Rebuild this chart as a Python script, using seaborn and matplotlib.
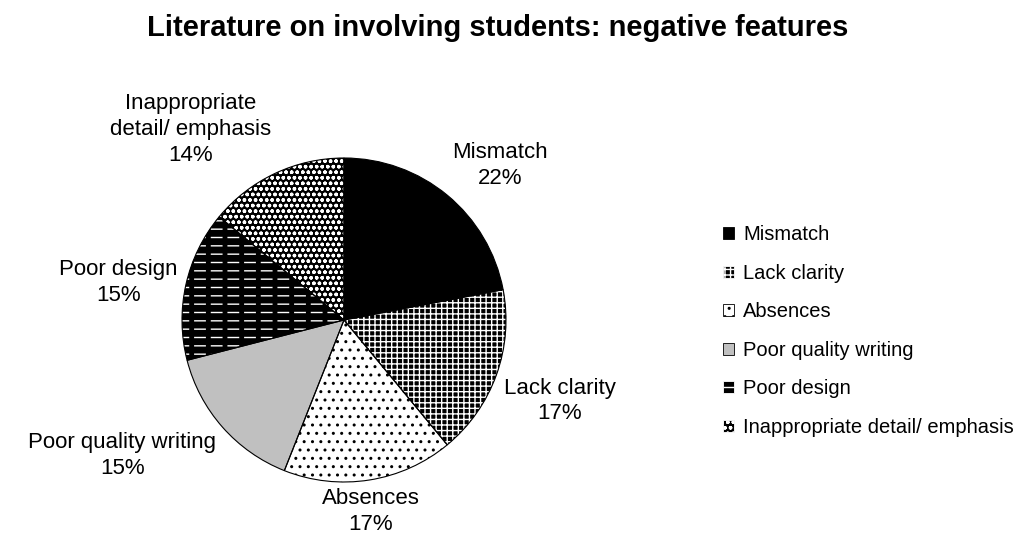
import numpy as np
import matplotlib
matplotlib.use('Agg')
import matplotlib.pyplot as plt
from matplotlib.patches import Patch, Wedge
import seaborn as sns

# data
categories = ['Mismatch', 'Lack clarity', 'Absences', 'Poor quality writing',
              'Poor design', 'Inappropriate detail/ emphasis']
pie_labels = ['Mismatch', 'Lack clarity', 'Absences', 'Poor quality writing',
              'Poor design', 'Inappropriate\ndetail/ emphasis']
shares = [22, 17, 17, 15, 15, 14]

# fill styles (face colour, hatch, hatch colour)
face_colors = ['black', 'black', 'white', '#c0c0c0', 'black', 'black']
hatches = ['', '+++', '..', '', '--', 'ooo']
hatch_colors = ['black', 'white', 'black', '#c0c0c0', 'white', 'white']

sns.set_theme(style='white')
plt.rcParams['font.family'] = ['Liberation Sans', 'DejaVu Sans']
plt.rcParams['text.color'] = 'black'
plt.rcParams['hatch.linewidth'] = 1.0

fig = plt.figure(figsize=(10.29, 5.41), dpi=100)
fig.patch.set_facecolor('white')

# pie centre ~ (344, 320) px, radius ~162 px
cx, cy, r = 344, 320, 162
W, H = 1029, 541
ax = fig.add_axes([(cx - r) / W, (H - cy - r) / H, 2 * r / W, 2 * r / H])

texts_in = [f'{l}\n{v}%' for l, v in zip(pie_labels, shares)]
wedges, texts = ax.pie(shares, labels=texts_in, startangle=90, counterclock=False,
                       colors=face_colors, labeldistance=1.05,
                       wedgeprops=dict(linewidth=0),
                       textprops=dict(fontsize=16, linespacing=1.3))
for w, h, hc in zip(wedges, hatches, hatch_colors):
    w.set_hatch(h)
    w.set_edgecolor(hc)

# break the white lines of "Poor design" into dashes with thick black bars
pd_w = wedges[4]
with plt.rc_context({'hatch.linewidth': 3.5}):
    bars = Wedge(pd_w.center, pd_w.r, pd_w.theta1, pd_w.theta2, fill=False,
                 hatch='|', edgecolor='black', linewidth=0)
if hasattr(bars, 'set_hatch_linewidth'):
    bars.set_hatch_linewidth(3.5)
ax.add_patch(bars)

# black outlines on top
ax.pie(shares, startangle=90, counterclock=False,
       wedgeprops=dict(fill=False, edgecolor='black', linewidth=0.8))

# place the outside labels like excel does: hug the edge of the pie
for w, t in zip(wedges, texts):
    ang = np.deg2rad((w.theta1 + w.theta2) / 2)
    c, s = np.cos(ang), np.sin(ang)
    t.set_ha('left' if c > 0.3 else ('right' if c < -0.3 else 'center'))
    t.set_va('bottom' if s > 0.3 else ('top' if s < -0.3 else 'center'))
    t.set_multialignment('center')

ax.set_xlim(-1, 1)
ax.set_ylim(-1, 1)
ax.set_aspect('equal')
ax.axis('off')

fig.suptitle('Literature on involving students: negative features',
             fontsize=21, fontweight='bold', x=0.484, y=0.975)

handles = []
for fc, h, hc in zip(face_colors, hatches, hatch_colors):
    ec = 'black' if hc in ('black', '#c0c0c0') else hc
    handles.append(Patch(facecolor=fc, hatch=h, edgecolor=ec, linewidth=0.6))
fig.legend(handles, categories, loc='upper left', bbox_to_anchor=(0.685, 0.617),
           frameon=False, fontsize=14.5, handlelength=0.55, handleheight=0.55,
           handletextpad=0.45, labelspacing=0.97)

fig.savefig('out.png', dpi=100, facecolor='white')
